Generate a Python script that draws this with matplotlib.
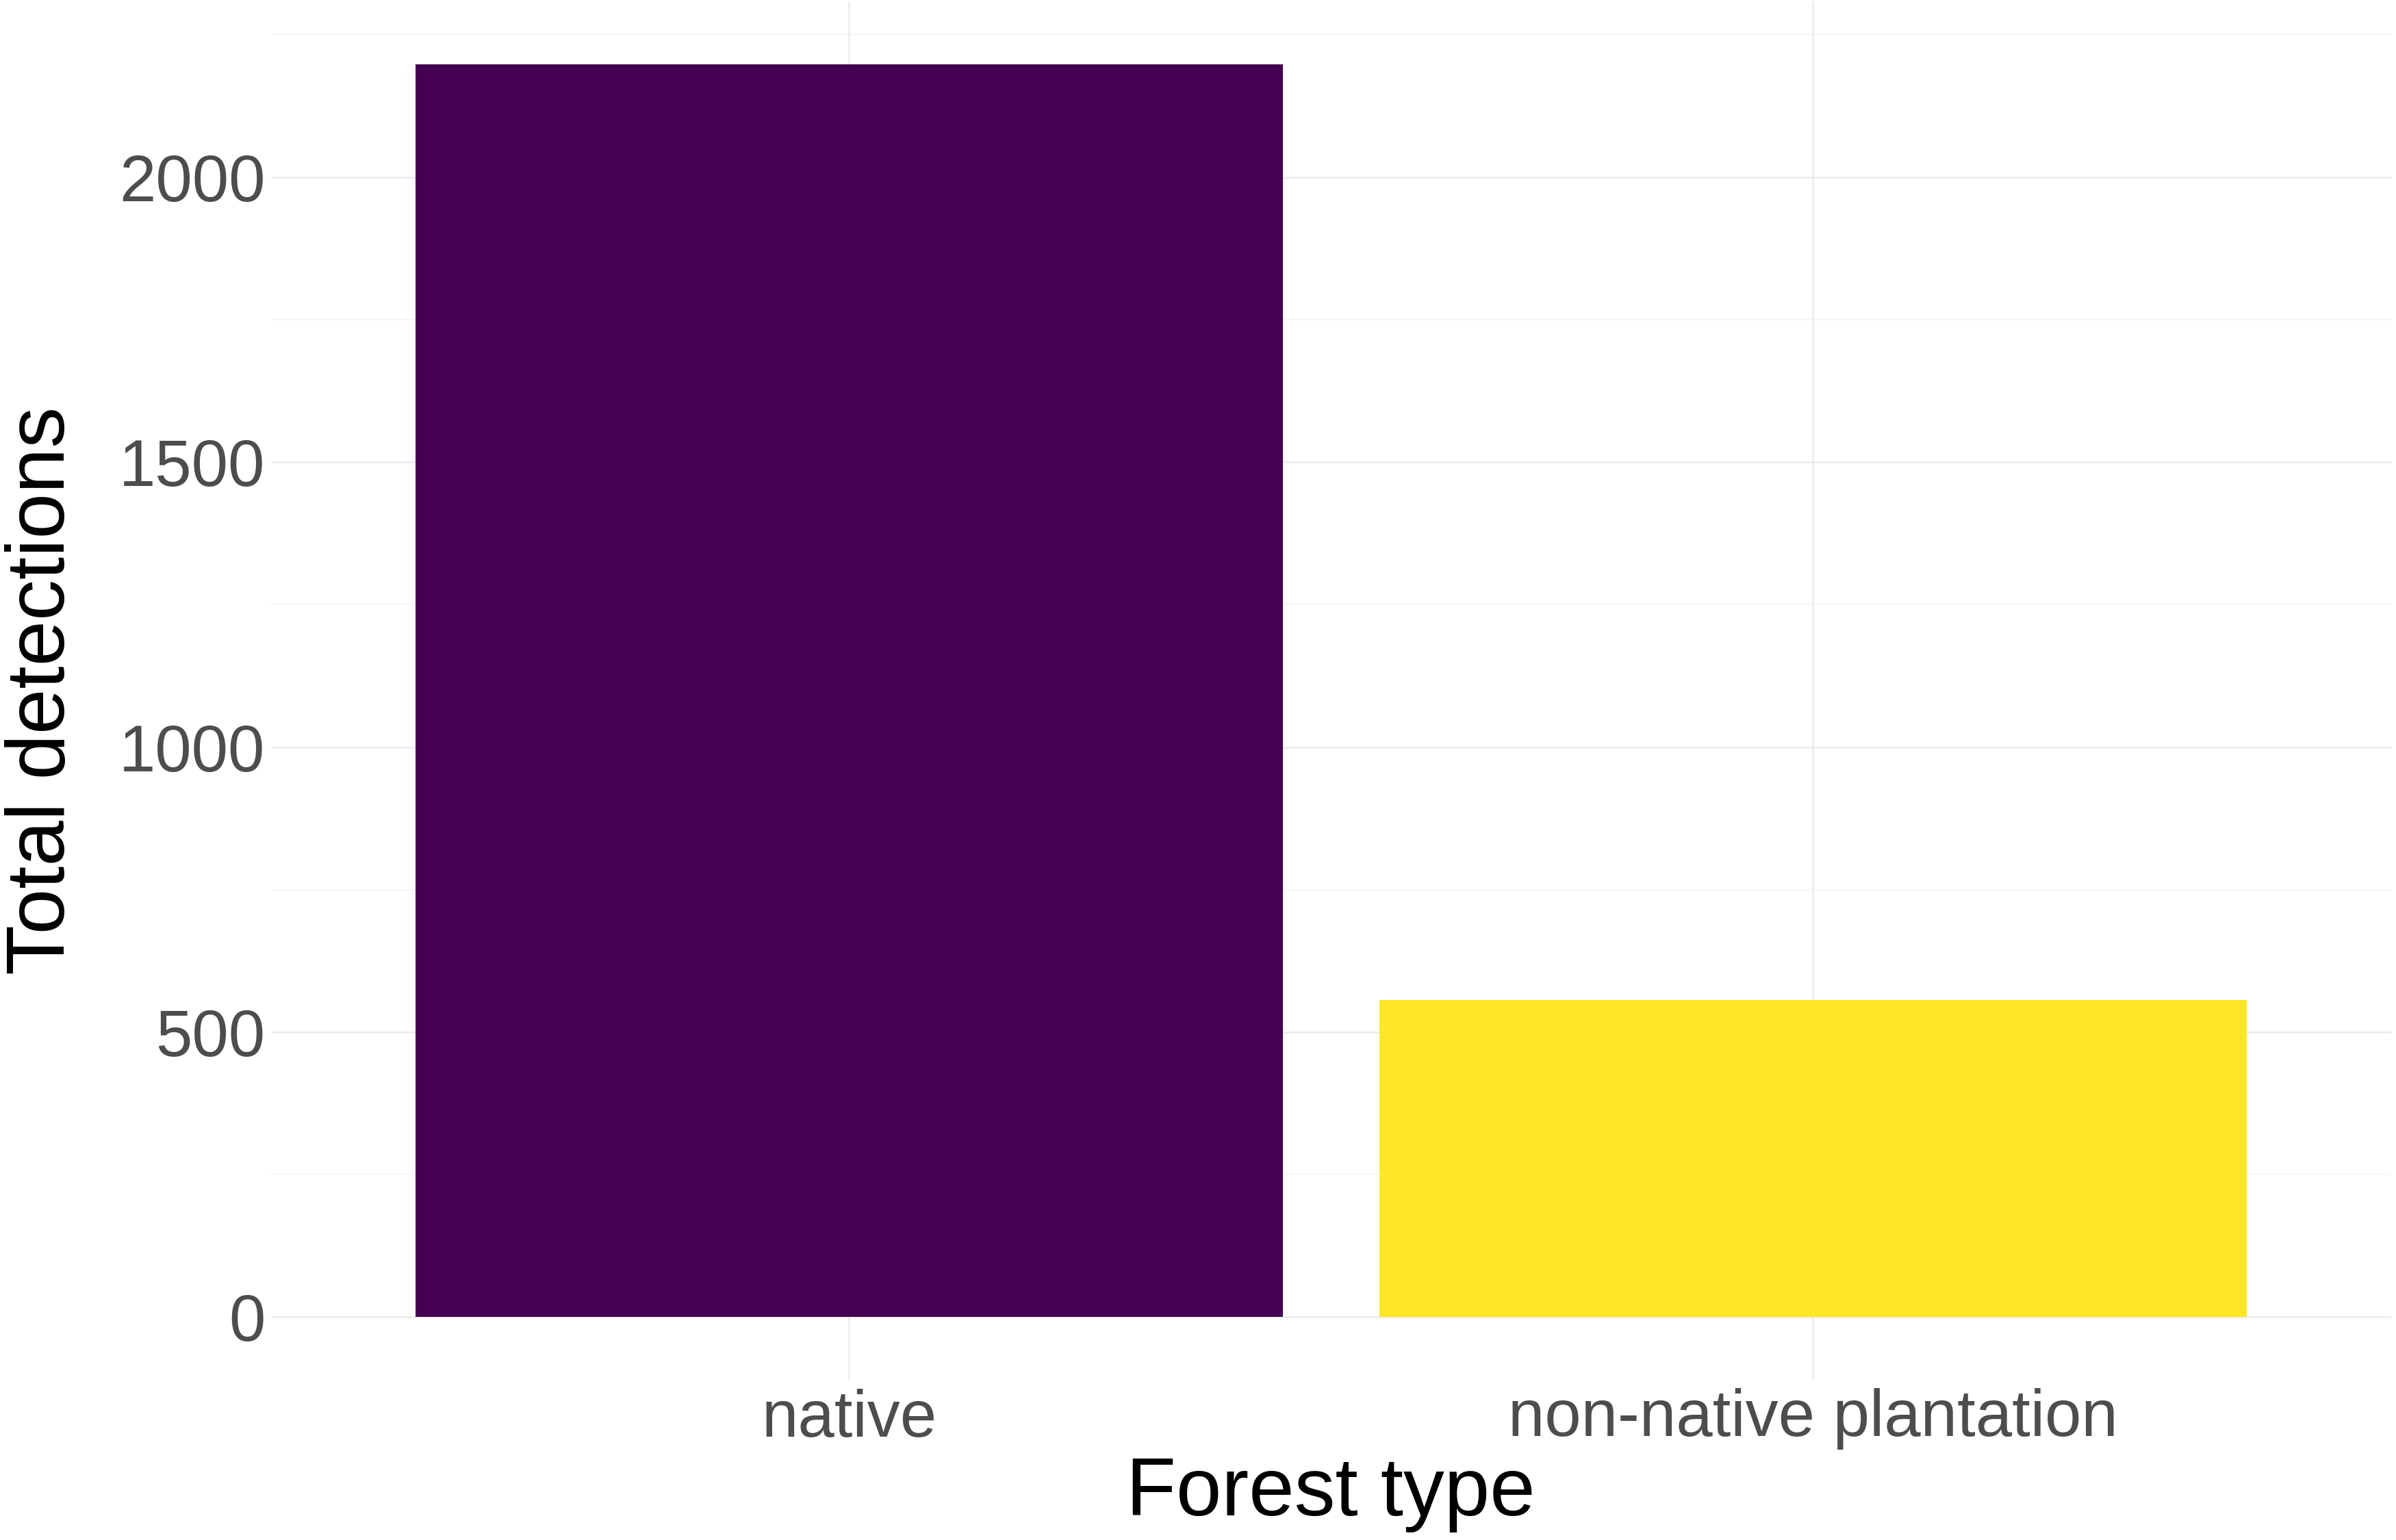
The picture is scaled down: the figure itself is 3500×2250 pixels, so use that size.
import matplotlib
matplotlib.use("Agg")
import matplotlib.pyplot as plt
import numpy as np

forest_types = ["native", "non-native plantation"]
total_detections = [2198, 556]
bar_colors = ["#440154", "#FDE725"]

plt.rcParams["font.family"] = ["Liberation Sans", "DejaVu Sans"]

fig = plt.figure(figsize=(3500 / 300, 2250 / 300), dpi=300)
ax = fig.add_axes([0.113, 0.104, 0.885, 0.895])

x = np.arange(1, len(forest_types) + 1)
ax.bar(x, total_detections, width=0.9, color=bar_colors, zorder=3)

ymax = max(total_detections)
ax.set_ylim(-0.05 * ymax, 1.05 * ymax)
ax.set_xlim(0.4, len(forest_types) + 0.6)

ax.set_yticks([0, 500, 1000, 1500, 2000])
ax.set_yticks([250, 750, 1250, 1750, 2250], minor=True)
ax.set_xticks(x)
ax.set_xticklabels(forest_types)

ax.grid(which="major", color="#EBEBEB", linewidth=0.6, zorder=0)
ax.grid(which="minor", axis="y", color="#F4F4F4", linewidth=0.4, zorder=0)
for s in ax.spines.values():
    s.set_visible(False)
ax.tick_params(which="both", length=0)
ax.tick_params(axis="y", labelsize=23, labelcolor="#4D4D4D", pad=2)
ax.tick_params(axis="x", labelsize=23, labelcolor="#4D4D4D", pad=3)

ax.set_xlabel("Forest type", fontsize=28.7, color="black", labelpad=2)
ax.set_ylabel("Total detections", fontsize=28.7, color="black", labelpad=13)

fig.savefig("out.png", dpi=300, facecolor="white")
